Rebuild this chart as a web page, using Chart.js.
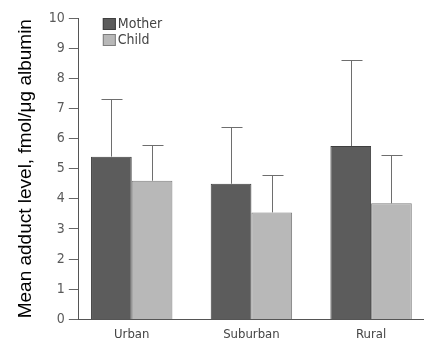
<!DOCTYPE html>
<html>
<head>
<meta charset="utf-8">
<script src="https://cdn.jsdelivr.net/npm/chart.js@4"></script>
<style>
  body { margin: 0; background: #fff; overflow: hidden; }
</style>
</head>
<body>
<canvas id="myChart" width="424" height="349"></canvas>
<script>
// data
const categories = ['Urban', 'Suburban', 'Rural'];
const motherMean = [5.4, 4.5, 5.75];
const motherUpper = [7.3, 6.4, 8.6];
const childMean = [4.6, 3.55, 3.85];
const childUpper = [5.8, 4.8, 5.45];

const narrow = "'Liberation Sans Narrow', 'DejaVu Sans Condensed', sans-serif";

// upper error bars with caps
const errorBars = {
  id: 'errorBars',
  afterDatasetsDraw(chart) {
    const ctx = chart.ctx;
    const y = chart.scales.y;
    ctx.save();
    ctx.strokeStyle = '#6e6e6e';
    ctx.lineWidth = 1;
    chart.data.datasets.forEach((ds, i) => {
      const meta = chart.getDatasetMeta(i);
      meta.data.forEach((bar, j) => {
        const x = Math.round(bar.x) + 0.5;
        const top = Math.round(y.getPixelForValue(ds.upper[j])) + 0.5;
        ctx.beginPath();
        ctx.moveTo(x, bar.y);
        ctx.lineTo(x, top);
        ctx.moveTo(x - 10, top);
        ctx.lineTo(x + 11, top);
        ctx.stroke();
      });
    });
    ctx.restore();
  }
};

// legend inside the plot, stacked
const insideLegend = {
  id: 'insideLegend',
  afterDraw(chart) {
    const ctx = chart.ctx;
    const left = chart.chartArea.left + 24;
    let top = chart.chartArea.top;
    ctx.save();
    ctx.font = '14px ' + narrow;
    ctx.textBaseline = 'middle';
    chart.data.datasets.forEach(ds => {
      ctx.fillStyle = ds.backgroundColor;
      ctx.fillRect(left, top, 13, 12);
      ctx.strokeStyle = ds.borderColor;
      ctx.strokeRect(left + 0.5, top + 0.5, 12, 11);
      ctx.fillStyle = '#444';
      ctx.fillText(ds.label, left + 15, top + 6.5);
      top += 16;
    });
    ctx.restore();
  }
};

const toPoints = arr => arr.map((v, i) => ({ x: i, y: v }));

new Chart(document.getElementById('myChart').getContext('2d'), {
  type: 'bar',
  data: {
    datasets: [{
      label: 'Mother',
      data: toPoints(motherMean),
      upper: motherUpper,
      backgroundColor: '#5c5c5c',
      borderColor: '#3f3f3f',
      borderWidth: 1,
      categoryPercentage: 0.68,
      barPercentage: 1
    }, {
      label: 'Child',
      data: toPoints(childMean),
      upper: childUpper,
      backgroundColor: '#b8b8b8',
      borderColor: '#7d7d7d',
      borderWidth: 1,
      categoryPercentage: 0.68,
      barPercentage: 1
    }]
  },
  options: {
    responsive: false,
    animation: false,
    layout: { padding: { top: 18, right: 0, bottom: 0, left: 14 } },
    plugins: {
      tooltip: { enabled: false },
      legend: { display: false }
    },
    scales: {
      x: {
        type: 'linear',
        offset: false,
        min: -0.442,
        max: 2.442,
        grid: { display: false, drawTicks: false },
        border: { color: '#555' },
        ticks: {
          stepSize: 1,
          includeBounds: false,
          autoSkip: false,
          maxRotation: 0,
          color: '#444',
          padding: 7,
          font: { family: narrow, size: 13 },
          callback: v => categories[v] ?? ''
        }
      },
      y: {
        min: 0,
        max: 10,
        grid: { drawOnChartArea: false, tickLength: 10, color: '#666' },
        border: { color: '#555' },
        ticks: {
          stepSize: 1,
          color: '#5a5a5a',
          padding: 4,
          font: { family: narrow, size: 14 }
        },
        title: {
          display: true,
          text: 'Mean adduct level, fmol/\u03bcg albumin',
          color: '#000',
          padding: { top: 0, bottom: 8 },
          font: { family: "'Liberation Sans', Arial, sans-serif", size: 19 }
        }
      }
    }
  },
  plugins: [errorBars, insideLegend]
});
</script>
</body>
</html>
